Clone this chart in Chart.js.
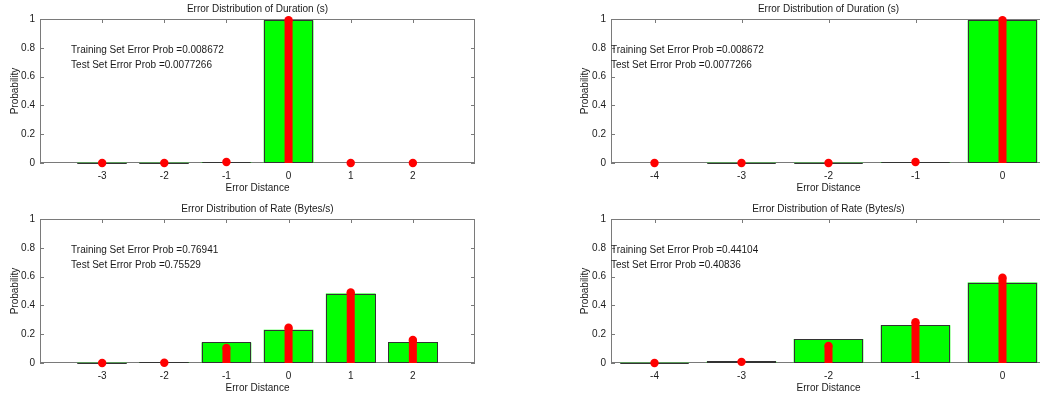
<!DOCTYPE html>
<html>
<head>
<meta charset="utf-8">
<script src="https://cdn.jsdelivr.net/npm/chart.js@4"></script>
<style>
  html, body { margin: 0; padding: 0; background: #fff; overflow: hidden; }
  #wrap { position: relative; width: 1040px; height: 400px; overflow: hidden; }
  canvas { position: absolute; }
</style>
</head>
<body>
<div id="wrap">
  <canvas id="durLeft" width="520" height="200" style="left:0;top:0"></canvas>
  <canvas id="durRight" width="506" height="200" style="left:540px;top:0"></canvas>
  <canvas id="rateLeft" width="520" height="200" style="left:0;top:200px"></canvas>
  <canvas id="rateRight" width="506" height="200" style="left:540px;top:200px"></canvas>
</div>
<script>
const DUR_TITLE = "Error Distribution of Duration (s)";
const RATE_TITLE = "Error Distribution of Rate (Bytes/s)";
const yTicks = [0, 0.2, 0.4, 0.6, 0.8, 1];

// left column: error distance -3..2
const leftCats = [-3, -2, -1, 0, 1, 2];
const durLeftTrain = [0.0012, 0.0015, 0.006, 0.991328, 0, 0];
const durLeftTest = [0.0003, 0.0005, 0.0069, 0.9922734, 0, 0];
const rateLeftTrain = [0.001, 0.006, 0.143, 0.23059, 0.482, 0.143];
const rateLeftTest = [0, 0.002, 0.105, 0.24471, 0.49, 0.16];

// right column: error distance -4..0
const rightCats = [-4, -3, -2, -1, 0];
const durRightTrain = [0, 0.0012, 0.0015, 0.006, 0.991328];
const durRightTest = [0, 0.0003, 0.0005, 0.0069, 0.9922734];
const rateRightTrain = [0.001, 0.011, 0.166, 0.263, 0.55896];
const rateRightTest = [0, 0.008, 0.119, 0.283, 0.59164];

const durProbs = ["0.008672", "0.0077266"];
const rateLeftProbs = ["0.76941", "0.75529"];
const rateRightProbs = ["0.44104", "0.40836"];

const FONT = '"Liberation Sans", Arial, Helvetica, sans-serif';
const INK = "#1a1a1a";
Chart.defaults.font.family = FONT;
Chart.defaults.font.size = 10;
Chart.defaults.color = INK;

// axes box, inward ticks, bar edges, title and the two probability lines
const frame = {
  id: "frame",
  beforeDatasetsDraw(chart) {
    const { ctx, chartArea: a, scales: { x, y } } = chart;
    ctx.save();
    ctx.strokeStyle = "#7a7a7a";
    ctx.lineWidth = 1;
    ctx.strokeRect(a.left + 0.5, a.top + 0.5, a.width - 1, a.height - 1);
    ctx.beginPath();
    x.ticks.forEach((t) => {
      const px = Math.round(x.getPixelForValue(t.value)) + 0.5;
      ctx.moveTo(px, a.bottom); ctx.lineTo(px, a.bottom - 4);
      ctx.moveTo(px, a.top); ctx.lineTo(px, a.top + 4);
    });
    y.ticks.forEach((t) => {
      const py = Math.round(y.getPixelForValue(t.value)) + 0.5;
      ctx.moveTo(a.left, py); ctx.lineTo(a.left + 4, py);
      ctx.moveTo(a.right, py); ctx.lineTo(a.right - 4, py);
    });
    ctx.stroke();
    ctx.restore();
  },
  afterDatasetDraw(chart, args) {
    if (args.index !== 0) return;
    const { ctx } = chart;
    ctx.save();
    ctx.strokeStyle = "#333333";
    ctx.lineWidth = 1;
    args.meta.data.forEach((bar, i) => {
      if (!args.meta._parsed[i].y) return;
      const p = bar.getProps(["x", "y", "base", "width"], true);
      const l = Math.round(p.x - p.width / 2), r = Math.round(p.x + p.width / 2);
      const t = Math.round(p.y), b = Math.round(p.base);
      ctx.strokeRect(l + 0.5, t + 0.5, r - l - 1, Math.max(b - t - 1, 0));
    });
    ctx.restore();
  },
  afterDraw(chart, args, opts) {
    const { ctx, chartArea: a, scales: { x, y } } = chart;
    ctx.save();
    ctx.fillStyle = INK;
    ctx.font = "10px " + FONT;
    ctx.textAlign = "center";
    ctx.textBaseline = "middle";
    ctx.fillText(opts.title, (a.left + a.right) / 2, 9);
    ctx.textAlign = "left";
    ctx.textBaseline = "alphabetic";
    const tx = x.getPixelForValue(opts.textX);
    ctx.fillText("Training Set Error Prob =" + opts.probs[0], tx, y.getPixelForValue(0.762));
    ctx.fillText("Test Set Error Prob =" + opts.probs[1], tx, y.getPixelForValue(0.662));
    ctx.restore();
  },
};

function makeChart(id, cats, train, test, cfg) {
  const pts = (vals) => cats.map((c, i) => ({ x: c, y: vals[i] }));
  return new Chart(document.getElementById(id), {
    type: "bar",
    data: {
      datasets: [
        { type: "bar", data: pts(train), backgroundColor: "#00ff00", borderWidth: 0,
          grouped: false, categoryPercentage: 1, barPercentage: 0.8, order: 3 },
        { type: "bar", data: pts(test), backgroundColor: "#ff0000", borderWidth: 0,
          grouped: false, maxBarThickness: 8, order: 2 },
        { type: "scatter", data: pts(test), backgroundColor: "#ff0000", borderWidth: 0,
          pointRadius: 4.2, pointHoverRadius: 4.2, clip: false, order: 1 },
      ],
    },
    options: {
      responsive: false, animation: false, events: [],
      layout: { autoPadding: false, padding: { top: 19, right: cfg.padRight, left: 0, bottom: 0 } },
      scales: {
        x: {
          type: "linear", min: cfg.xmin, max: cfg.xmax, offset: false,
          grid: { display: false, drawTicks: false }, border: { display: false },
          afterBuildTicks: (s) => { s.ticks = cats.map((v) => ({ value: v })); },
          ticks: { padding: 7, maxRotation: 0, autoSkip: false, color: INK, callback: (v) => String(v) },
          title: { display: true, text: "Error Distance", color: INK, padding: { top: 0, bottom: 5.5 } },
          afterFit: (s) => { s.height = 37; },
        },
        y: {
          min: 0, max: 1,
          grid: { display: false, drawTicks: false }, border: { display: false },
          afterBuildTicks: (s) => { s.ticks = yTicks.map((v) => ({ value: v })); },
          ticks: { padding: 5, color: INK, callback: (v) => String(v) },
          title: { display: true, text: "Probability", color: INK, padding: { top: cfg.yTitlePad, bottom: 0 } },
          afterFit: (s) => { s.width = cfg.yWidth; },
        },
      },
      plugins: {
        legend: { display: false },
        tooltip: { enabled: false },
        frame: { title: cfg.title, probs: cfg.probs, textX: cfg.textX },
      },
    },
    plugins: [frame],
  });
}

const leftCfg = { xmin: -4, xmax: 3, padRight: 45, yWidth: 40, yTitlePad: 9, textX: -3.5 };
const rightCfg = { xmin: -4.5, xmax: 0.5, padRight: 0, yWidth: 71, yTitlePad: 39, textX: -4.5 };

makeChart("durLeft", leftCats, durLeftTrain, durLeftTest, { ...leftCfg, title: DUR_TITLE, probs: durProbs });
makeChart("durRight", rightCats, durRightTrain, durRightTest, { ...rightCfg, title: DUR_TITLE, probs: durProbs });
makeChart("rateLeft", leftCats, rateLeftTrain, rateLeftTest, { ...leftCfg, title: RATE_TITLE, probs: rateLeftProbs });
makeChart("rateRight", rightCats, rateRightTrain, rateRightTest, { ...rightCfg, title: RATE_TITLE, probs: rateRightProbs });
</script>
</body>
</html>
